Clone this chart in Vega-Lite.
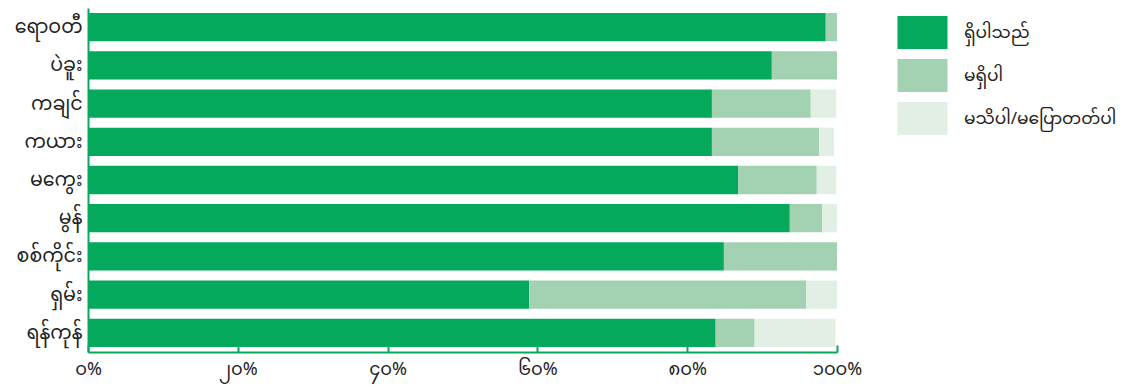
{
  "$schema": "https://vega.github.io/schema/vega-lite/v6.json",
  "autosize": "none",
  "padding": {"left": 88, "top": 8, "right": 289, "bottom": 36},
  "width": 749,
  "height": 344,
  "config": {
    "view": {"stroke": null},
    "font": "Noto Sans Myanmar, Padauk, Noto Sans, sans-serif"
  },
  "data": {
    "values": [
      {"region": "ရောဝတီ", "answer": "ရှိပါသည်", "k": 1, "pct": 98.5},
      {"region": "ရောဝတီ", "answer": "မရှိပါ", "k": 2, "pct": 1.5},
      {"region": "ရောဝတီ", "answer": "မသိပါ/မပြောတတ်ပါ", "k": 3, "pct": 0},
      {"region": "ပဲခူး", "answer": "ရှိပါသည်", "k": 1, "pct": 91.3},
      {"region": "ပဲခူး", "answer": "မရှိပါ", "k": 2, "pct": 8.7},
      {"region": "ပဲခူး", "answer": "မသိပါ/မပြောတတ်ပါ", "k": 3, "pct": 0},
      {"region": "ကချင်", "answer": "ရှိပါသည်", "k": 1, "pct": 83.3},
      {"region": "ကချင်", "answer": "မရှိပါ", "k": 2, "pct": 13.2},
      {"region": "ကချင်", "answer": "မသိပါ/မပြောတတ်ပါ", "k": 3, "pct": 3.4},
      {"region": "ကယား", "answer": "ရှိပါသည်", "k": 1, "pct": 83.3},
      {"region": "ကယား", "answer": "မရှိပါ", "k": 2, "pct": 14.3},
      {"region": "ကယား", "answer": "မသိပါ/မပြောတတ်ပါ", "k": 3, "pct": 2.0},
      {"region": "မကွေး", "answer": "ရှိပါသည်", "k": 1, "pct": 86.8},
      {"region": "မကွေး", "answer": "မရှိပါ", "k": 2, "pct": 10.5},
      {"region": "မကွေး", "answer": "မသိပါ/မပြောတတ်ပါ", "k": 3, "pct": 2.6},
      {"region": "မွန်", "answer": "ရှိပါသည်", "k": 1, "pct": 93.7},
      {"region": "မွန်", "answer": "မရှိပါ", "k": 2, "pct": 4.3},
      {"region": "မွန်", "answer": "မသိပါ/မပြောတတ်ပါ", "k": 3, "pct": 2.0},
      {"region": "စစ်ကိုင်း", "answer": "ရှိပါသည်", "k": 1, "pct": 84.9},
      {"region": "စစ်ကိုင်း", "answer": "မရှိပါ", "k": 2, "pct": 15.1},
      {"region": "စစ်ကိုင်း", "answer": "မသိပါ/မပြောတတ်ပါ", "k": 3, "pct": 0},
      {"region": "ရှမ်း", "answer": "ရှိပါသည်", "k": 1, "pct": 58.9},
      {"region": "ရှမ်း", "answer": "မရှိပါ", "k": 2, "pct": 37.0},
      {"region": "ရှမ်း", "answer": "မသိပါ/မပြောတတ်ပါ", "k": 3, "pct": 4.1},
      {"region": "ရန်ကုန်", "answer": "ရှိပါသည်", "k": 1, "pct": 83.8},
      {"region": "ရန်ကုန်", "answer": "မရှိပါ", "k": 2, "pct": 5.2},
      {"region": "ရန်ကုန်", "answer": "မသိပါ/မပြောတတ်ပါ", "k": 3, "pct": 10.8}
    ]
  },
  "mark": {"type": "bar"},
  "encoding": {
    "y": {
      "field": "region",
      "type": "nominal",
      "sort": null,
      "scale": {"paddingInner": 0.26, "paddingOuter": 0.13},
      "axis": {
        "title": null,
        "domainColor": "#05a95c",
        "domainWidth": 2,
        "ticks": false,
        "labelFontSize": 19,
        "labelColor": "#222222",
        "labelPadding": 6
      }
    },
    "x": {
      "field": "pct",
      "type": "quantitative",
      "stack": "zero",
      "scale": {"domain": [0, 100], "nice": false},
      "axis": {
        "title": null,
        "grid": false,
        "values": [0, 20, 40, 60, 80, 100],
        "labelExpr": "datum.value == 0 ? '၀%' : datum.value == 20 ? '၂၀%' : datum.value == 40 ? '၄၀%' : datum.value == 60 ? '၆၀%' : datum.value == 80 ? '၈၀%' : '၁၀၀%'",
        "domainColor": "#05a95c",
        "domainWidth": 2,
        "tickColor": "#05a95c",
        "tickWidth": 2,
        "tickSize": -7,
        "labelFontSize": 18,
        "labelColor": "#222222",
        "labelPadding": 15,
        "labelFlush": false
      }
    },
    "color": {
      "field": "answer",
      "type": "nominal",
      "scale": {
        "domain": ["ရှိပါသည်", "မရှိပါ", "မသိပါ/မပြောတတ်ပါ"],
        "range": ["#05a95c", "#a3d2b2", "#e1efe5"]
      },
      "legend": {
        "title": null,
        "orient": "none",
        "legendX": 818,
        "legendY": 8,
        "padding": 0,
        "symbolType": "M-1.515,-1L1.515,-1L1.515,1L-1.515,1Z",
        "symbolSize": 1089,
        "symbolStrokeWidth": 0,
        "symbolOpacity": 1,
        "labelFontSize": 17,
        "labelColor": "#222222",
        "labelOffset": 25,
        "labelLimit": 300,
        "rowPadding": 10
      }
    },
    "order": {"field": "k", "type": "quantitative"}
  }
}
